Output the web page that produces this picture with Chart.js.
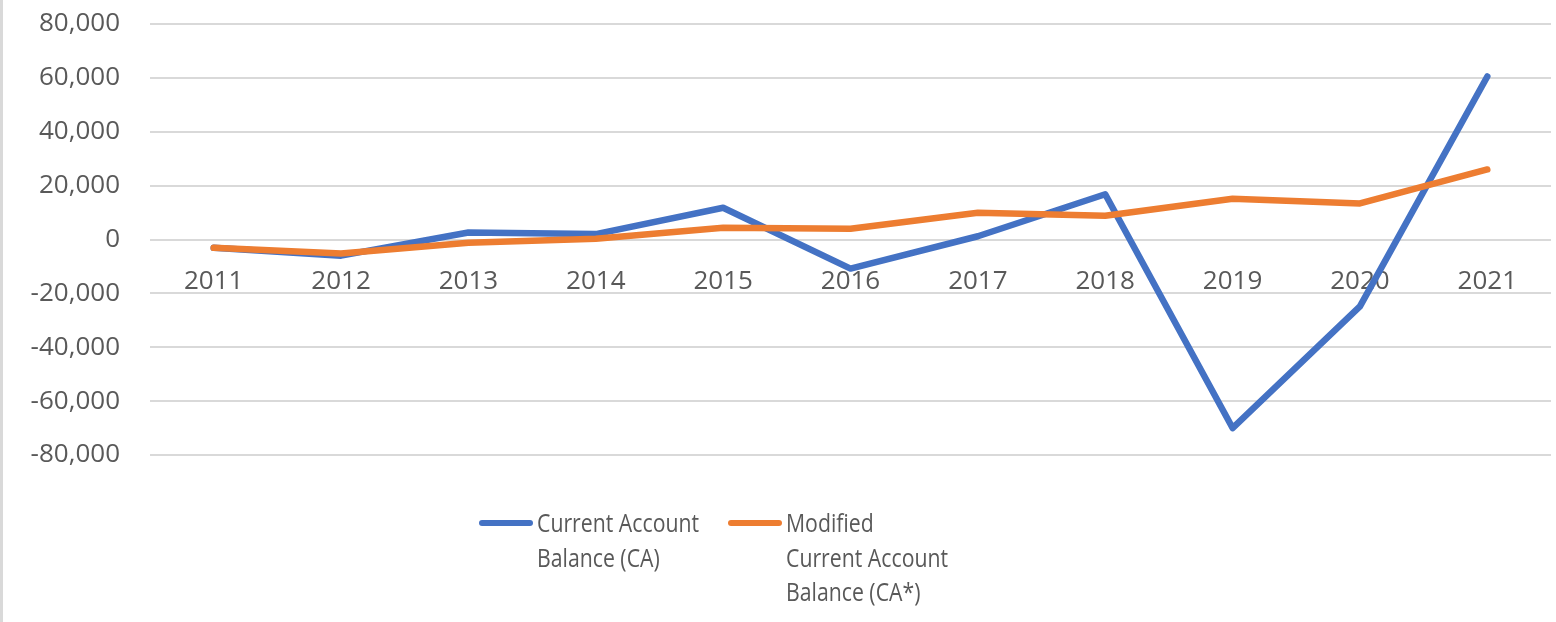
<!DOCTYPE html>
<html>
<head>
<meta charset="utf-8">
<script src="https://cdn.jsdelivr.net/npm/chart.js@4"></script>
<style>
  html, body { margin: 0; padding: 0; background: #fff; }
  #wrap { position: relative; width: 1556px; height: 622px; overflow: hidden; }
  #edge { position: absolute; left: 0; top: 0; width: 3px; height: 622px; background: #d9d9d9; }
  #chartBox { position: absolute; left: 0; top: 0; width: 1556px; height: 622px; }
  .legend-item { position: absolute; font-family: "Open Sans", sans-serif; font-size: 25px;
    line-height: 34.5px; color: #595959; white-space: nowrap;
    transform: scaleX(0.85); transform-origin: left top; }
  .legend-line { position: absolute; height: 6px; border-radius: 3px; }
</style>
</head>
<body>
<div id="wrap">
  <div id="edge"></div>
  <div id="chartBox"><canvas id="caChart"></canvas></div>
  <div id="legend"></div>
</div>
<script>
const years = ["2011", "2012", "2013", "2014", "2015", "2016", "2017", "2018", "2019", "2020", "2021"];
const caValues = [-3100, -6000, 2600, 2000, 11800, -10800, 1200, 16800, -70000, -24800, 60500];
const caStarValues = [-3100, -5200, -1200, 300, 4400, 4000, 9900, 8800, 15100, 13400, 26000];
const seriesNames = [["Current Account", "Balance (CA)"], ["Modified", "Current Account", "Balance (CA*)"]];
const seriesColors = ["#4472C4", "#ED7D31"];

/* ------------------------------- */
/* LEGEND (HTML, Excel style wrap) */
/* ------------------------------- */

function buildLegend() {
  const legend = document.getElementById("legend");
  const lineLefts = [479, 728];

  seriesNames.forEach(function (lines, i) {
    const line = document.createElement("div");
    line.className = "legend-line";
    line.style.left = lineLefts[i] + "px";
    line.style.top = "520px";
    line.style.width = "54px";
    line.style.background = seriesColors[i];
    legend.appendChild(line);

    const text = document.createElement("div");
    text.className = "legend-item";
    text.style.left = lineLefts[i] + 58 + "px";
    text.style.top = "505px";
    text.innerHTML = lines.join("<br>");
    legend.appendChild(text);
  });
}

/* ------------------------------- */
/* LINE CHART */
/* ------------------------------- */

function initializeChart() {
  const ctx = document.getElementById("caChart").getContext("2d");

  new Chart(ctx, {
    type: "line",

    data: {
      labels: years,

      datasets: [
        {
          label: seriesNames[0].join(" "),
          data: caValues,
          borderColor: seriesColors[0],
          backgroundColor: seriesColors[0],
          borderWidth: 6.5,
          borderCapStyle: "round",
          borderJoinStyle: "round",
          pointRadius: 0,
          tension: 0,
          order: 1,
        },
        {
          label: seriesNames[1].join(" "),
          data: caStarValues,
          borderColor: seriesColors[1],
          backgroundColor: seriesColors[1],
          borderWidth: 6.5,
          borderCapStyle: "round",
          borderJoinStyle: "round",
          pointRadius: 0,
          tension: 0,
          order: 0,
        },
      ],
    },

    options: {
      responsive: true,
      maintainAspectRatio: false,
      animation: false,

      layout: {
        padding: { top: 24, right: 5, bottom: 167, left: 0 },
      },

      plugins: {
        legend: { display: false },
        tooltip: { enabled: false },
      },

      scales: {
        x: {
          position: { y: 0 },
          offset: true,
          afterFit: function (scale) {
            // axis sits on the zero line, it should not take layout room
            scale.height = 0;
          },
          grid: { display: false, drawTicks: false },
          border: { display: false },
          ticks: {
            color: "#595959",
            padding: 26,
            maxRotation: 0,
            autoSkip: false,
            font: { family: "Open Sans", size: 26 },
          },
        },
        y: {
          min: -80000,
          max: 80000,
          afterFit: function (scale) {
            scale.width = 150;
            scale.paddingTop = 0;
            scale.paddingBottom = 0;
          },
          grid: { color: "#d9d9d9", lineWidth: 2, drawTicks: false },
          border: { display: false },
          ticks: {
            stepSize: 20000,
            color: "#595959",
            padding: 30,
            font: { family: "Open Sans", size: 26 },
            callback: function (value) {
              return value.toLocaleString("en-US");
            },
          },
        },
      },
    },
  });
}

buildLegend();
initializeChart();
</script>
</body>
</html>
